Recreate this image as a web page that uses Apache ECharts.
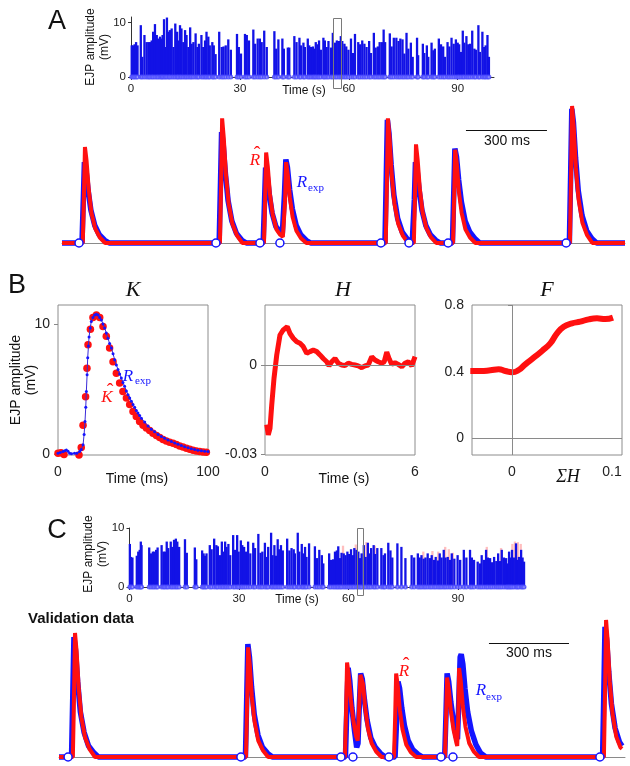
<html>
<head>
<meta charset="utf-8">
<script src="https://cdn.jsdelivr.net/npm/echarts@6.0.0/dist/echarts.min.js"></script>
</head>
<body style="margin:0">
<div id="container" style="width:630px;height:766px"></div>
<script>
// ---- panel A raster: [time (s), EJP amplitude (mV)]
var rasterA = [[0.2,5.8],[0.6,5.8],[1.0,6.0],[1.4,6.4],[1.8,5.8],[2.7,9.5],[3.1,3.7],[3.7,7.7],[4.3,6.4],[4.8,6.4],[5.2,6.4],[5.7,6.7],[6.1,8.3],[6.6,9.7],[7.1,7.7],[7.5,7.05],[8.0,7.4],[8.4,7.05],[8.7,7.7],[9.1,10.6],[9.5,5.5],[9.9,10.9],[10.4,8.3],[10.7,8.6],[11.2,8.9],[11.7,5.5],[12.2,9.8],[12.7,8.3],[13.0,6.7],[13.5,9.5],[13.9,8.9],[14.4,6.4],[14.9,8.6],[15.3,7.7],[15.8,5.5],[16.3,9.1],[16.7,6.1],[17.2,6.4],[17.8,8.0],[18.3,5.5],[18.7,6.1],[19.4,7.7],[19.9,5.5],[20.4,6.7],[20.8,8.3],[21.3,7.4],[21.7,5.8],[22.4,6.4],[22.8,5.8],[23.3,4.2],[24.3,8.3],[25.0,5.5],[25.5,5.6],[26.1,5.8],[26.8,6.9],[27.5,5.0],[29.2,7.9],[29.7,5.5],[30.3,4.3],[31.4,7.9],[31.9,7.7],[32.5,6.7],[33.7,8.7],[34.2,6.1],[34.9,7.05],[35.5,7.05],[36.0,6.4],[36.7,8.5],[37.4,5.5],[39.5,8.4],[40.0,5.2],[40.6,6.9],[41.7,7.05],[42.1,5.2],[43.2,5.4],[43.6,5.4],[45.0,7.5],[45.6,6.4],[46.4,7.2],[46.8,5.8],[47.5,6.3],[47.9,5.5],[48.7,7.05],[49.1,5.8],[49.6,5.5],[50.1,5.6],[50.5,5.2],[50.9,6.4],[51.4,6.0],[51.8,6.7],[52.3,5.0],[53.0,7.2],[53.4,6.7],[53.9,5.5],[54.4,6.6],[55.1,5.4],[55.6,8.1],[56.2,6.3],[56.7,6.7],[57.3,6.6],[57.8,7.5],[58.2,6.6],[58.8,6.1],[59.3,5.6],[59.9,5.0],[60.6,7.05],[61.2,4.4],[61.7,7.9],[62.6,6.4],[63.1,6.0],[63.7,6.7],[64.3,6.1],[64.9,5.5],[65.6,6.6],[66.1,4.4],[66.9,8.1],[67.4,5.4],[68.0,5.6],[68.5,6.4],[69.1,6.4],[69.6,8.7],[70.0,6.4],[71.3,8.0],[71.8,5.6],[72.4,7.2],[73.1,7.2],[73.7,6.6],[74.2,7.05],[74.8,6.9],[75.3,4.3],[75.9,8.1],[76.4,5.2],[77.1,6.3],[77.6,3.7],[78.8,7.2],[79.1,4.0],[80.4,6.1],[80.8,4.4],[81.5,5.8],[81.9,3.7],[82.8,6.3],[83.3,4.9],[83.7,5.2],[84.8,7.05],[85.4,6.0],[86.0,5.6],[86.5,3.7],[87.2,6.4],[87.7,5.6],[88.3,7.2],[88.9,6.1],[89.5,6.9],[90.0,6.3],[90.4,6.0],[90.9,4.6],[91.4,8.5],[91.8,6.3],[92.4,7.5],[92.9,6.0],[93.4,6.1],[94.0,8.5],[94.6,5.2],[95.0,5.0],[95.7,9.5],[96.1,4.6],[96.8,8.3],[97.3,5.5],[97.7,5.8],[98.2,7.7],[98.6,3.7]];

// ---- panel A traces: [time (ms), mV]
var traceABlue = [[0,0],[74,0],[79,3.2],[83,5.9],[89,5.3],[97,3.8],[107,2.4],[121,1.3],[138,0.6],[158,0.2],[175,0],
  [582,0],[587,4.4],[591,8.1],[597,7.2],[605,5.1],[615,3.1],[629,1.6],[646,0.7],[666,0.2],[683,0],
  [745,0],[750,3.0],[754,5.5],[760,4.9],[768,3.5],[778,2.2],[792,1.2],[808,0.8],[816,0.7],[824,3.6],[829,6.1],[835,5.5],[843,3.9],[853,2.5],[867,1.3],[884,0.6],[904,0.2],[921,0],
  [1196,0],[1201,4.9],[1205,9.0],[1211,8.0],[1219,5.7],[1229,3.5],[1243,1.8],[1260,0.8],[1280,0.25],[1297,0],
  [1300,0],[1305,3.2],[1309,5.9],[1315,5.3],[1323,3.8],[1333,2.4],[1347,1.3],[1364,0.6],[1384,0.2],[1401,0],
  [1446,0],[1451,3.8],[1455,6.9],[1461,6.3],[1469,4.6],[1479,3.0],[1493,1.6],[1510,0.8],[1530,0.3],[1547,0],
  [1879,0],[1884,5.3],[1888,9.8],[1894,8.8],[1902,6.2],[1912,3.8],[1926,2.0],[1943,0.9],[1963,0.3],[1980,0],[2085,0]];
var traceARed = [[0,0],[77,0],[81,3.2],[85,7.0],[91,6.0],[99,3.9],[109,2.2],[123,1.05],[140,0.4],[160,0],
  [585,0],[589,4.1],[593,9.1],[599,7.7],[607,5.0],[617,2.9],[631,1.4],[648,0.55],[668,0],
  [748,0],[752,3.0],[756,6.6],[762,5.6],[770,3.6],[780,2.1],[794,1.0],[808,0.6],[818,0.45],[826,3.0],[830,5.9],[836,5.0],[844,3.3],[854,1.9],[868,0.9],[885,0.35],[905,0],
  [1199,0],[1203,4.1],[1207,9.1],[1213,7.7],[1221,5.0],[1231,2.9],[1245,1.4],[1262,0.55],[1282,0],
  [1303,0],[1307,3.2],[1311,7.2],[1317,6.1],[1325,4.0],[1335,2.3],[1349,1.1],[1366,0.43],[1386,0],
  [1448,0],[1452,3.1],[1456,6.8],[1462,5.8],[1470,3.7],[1480,2.2],[1494,1.0],[1511,0.4],[1531,0],
  [1881,0],[1885,4.5],[1889,10.0],[1895,8.5],[1903,5.5],[1913,3.2],[1927,1.5],[1944,0.6],[1964,0],[2085,0]];
var spikesA = [63, 570, 733, 807, 1181, 1285, 1430, 1867];

// ---- panel B
var kHat = [[0,0.05],[2,0.1],[4,-0.05],[6,-0.12],[8,-0.12],[10,-0.12],[12,-0.12],[14,-0.08],[15.5,0.5],[16.7,2.2],[18.4,4.4],[19.3,6.6],[20,8.4],[21.6,9.6],[23.3,10.5],[25.6,10.7],[27.8,10.5],[30,9.8],[32.2,9.05],[34.4,8.15],[36.7,7.1],[38.9,6.2],[41.1,5.45],[43.3,4.8],[45.6,4.3],[47.8,3.8],[50,3.26],[52.2,2.88],[54.4,2.5],[56.7,2.2],[58.9,2.0],[61.1,1.8],[63.3,1.6],[65.6,1.42],[67.8,1.26],[70,1.12],[72.2,1.0],[74.4,0.9],[76.7,0.82],[78.9,0.72],[81.1,0.62],[83.3,0.53],[85.6,0.44],[87.8,0.36],[90,0.28],[92.2,0.22],[94.4,0.18],[96.7,0.15],[98.9,0.13]];
var kExp = [[0,0.05],[1.5,0.12],[3.3,0.18],[4.5,0.25],[5.6,0.3],[6.7,0.2],[7.8,0.05],[9,0.02],[11,0.05],[12.5,0.05],[14.4,0.18],[15.5,0.35],[16.7,0.7],[17.4,1.5],[18,2.5],[18.5,3.6],[18.9,4.8],[19.4,6.1],[19.8,7.4],[20.3,8.3],[20.7,9.0],[21.5,9.7],[22.2,10.2],[23.3,10.5],[24.4,10.7],[25.6,10.75],[26.7,10.7],[27.8,10.5],[28.9,10.3],[30,10.0],[31.1,9.7],[32.2,9.3],[33.3,8.9],[34.4,8.5],[35.6,8.15],[36.7,7.7],[37.8,7.25],[38.9,6.85],[40,6.5],[41.1,6.15],[42.2,5.85],[43.3,5.5],[44.4,5.2],[45.6,4.85],[46.7,4.55],[47.8,4.3],[48.9,4.05],[50,3.8],[51.1,3.6],[52.2,3.35],[53.3,3.15],[54.4,2.95],[55.6,2.75],[57.8,2.45],[60,2.15],[62.2,1.9],[64.4,1.7],[66.7,1.5],[68.9,1.35],[71.1,1.2],[73.3,1.08],[75.6,0.95],[77.8,0.85],[80,0.75],[82.2,0.65],[84.4,0.55],[86.7,0.48],[88.9,0.4],[91.1,0.34],[93.3,0.28],[95.6,0.24],[97.8,0.2],[100,0.18]];
var hCurve = [[0.07,-0.0201],[0.13,-0.0235],[0.2,-0.0213],[0.27,-0.0134],[0.36,-0.0045],[0.47,0.0034],[0.6,0.0101],[0.73,0.0118],[0.89,0.0129],[1.0,0.0106],[1.13,0.009],[1.27,0.0078],[1.4,0.0073],[1.53,0.0062],[1.67,0.0039],[1.8,0.0045],[1.93,0.005],[2.07,0.0045],[2.2,0.0034],[2.33,0.0022],[2.47,0.0011],[2.56,-0.0003],[2.67,0.0011],[2.8,0.0022],[2.93,0.0006],[3.07,0],[3.2,-0.0002],[3.33,0.0006],[3.47,0.0002],[3.6,0],[3.73,-0.0003],[3.87,-0.0009],[4.0,-0.0003],[4.13,0],[4.27,0.0028],[4.4,0.0017],[4.53,0.0011],[4.67,0.0006],[4.77,0.0011],[4.87,0.0043],[4.97,0.002],[5.07,0.0002],[5.2,0.0008],[5.33,0.0002],[5.47,-0.0006],[5.6,0.0006],[5.73,0.0011],[5.87,-0.0003],[6.0,0.0028]];
var fCurve = [[-0.0417,0.404],[-0.0317,0.404],[-0.0217,0.408],[-0.0133,0.414],[-0.0067,0.404],[0,0.396],[0.0067,0.41],[0.0133,0.444],[0.0217,0.484],[0.03,0.524],[0.0383,0.57],[0.045,0.63],[0.0517,0.67],[0.06,0.69],[0.0683,0.70],[0.0767,0.714],[0.085,0.72],[0.0933,0.716],[0.101,0.724]];

// ---- panel C raster
var rasterC = [[0.1,7.3],[0.4,5.1],[0.8,5.0],[2.0,5.3],[2.4,6.0],[2.8,6.3],[3.1,7.7],[3.3,7.1],[5.4,6.7],[5.9,5.7],[6.4,6.0],[6.8,6.0],[7.3,6.3],[7.7,6.7],[8.8,7.1],[9.3,6.0],[9.7,6.0],[10.2,7.7],[10.6,6.6],[11.3,7.7],[11.7,6.8],[12.2,8.0],[12.7,8.2],[13.1,7.7],[13.6,6.8],[15.2,8.1],[15.7,5.8],[17.9,6.7],[18.3,4.7],[19.9,6.2],[20.3,5.7],[20.7,5.3],[21.1,5.7],[22.0,7.1],[22.5,6.4],[23.2,8.2],[23.8,7.1],[24.2,6.9],[24.8,5.4],[25.3,7.7],[25.7,6.0],[26.2,7.7],[26.6,6.8],[27.1,7.3],[27.6,5.4],[28.4,8.8],[28.9,6.3],[29.5,8.8],[29.9,6.0],[30.5,7.9],[30.9,7.1],[31.4,6.8],[31.9,6.0],[32.5,7.7],[33.1,5.7],[33.9,7.5],[34.4,6.6],[35.3,9.0],[35.9,5.8],[36.4,6.0],[37.1,7.5],[37.6,5.1],[38.0,6.8],[38.8,9.2],[39.2,5.4],[39.7,7.1],[40.1,5.3],[40.6,8.1],[41.0,6.4],[41.5,7.1],[42.0,6.2],[43.2,8.2],[43.8,6.2],[44.4,6.6],[45.0,6.4],[45.3,5.7],[46.1,9.2],[46.5,6.0],[47.2,7.3],[47.6,5.7],[48.1,6.8],[48.5,5.1],[49.2,7.4],[50.8,6.9],[51.4,4.9],[52.0,6.3],[52.7,5.4],[53.1,4.0],[54.7,5.7],[55.2,4.6],[55.8,4.7],[56.3,6.0],[56.8,6.2],[57.2,6.9],[57.7,4.9],[58.1,5.8],[58.7,5.7],[59.2,5.4],[59.7,6.0],[60.2,5.6],[60.7,6.4],[61.2,5.4],[61.6,6.6],[62.2,6.3],[62.7,6.0],[63.2,4.9],[63.6,5.7],[64.2,7.1],[64.7,5.1],[65.3,7.5],[65.7,5.7],[66.2,6.6],[66.9,7.1],[67.3,5.6],[67.9,6.6],[69.0,6.6],[69.6,5.4],[70.0,5.7],[70.9,7.5],[71.5,6.2],[72.0,5.0],[73.4,7.4],[74.5,6.8],[75.6,4.9],[77.3,5.4],[78.0,5.0],[79.0,5.7],[79.5,5.0],[80.0,5.4],[80.6,4.8],[81.1,5.0],[81.7,5.7],[82.3,4.9],[82.8,5.4],[83.4,4.6],[83.9,5.1],[84.5,4.5],[85.0,5.7],[85.5,5.0],[86.1,6.3],[86.6,5.0],[87.2,5.1],[87.8,4.6],[88.3,5.7],[89.0,4.8],[89.9,5.4],[90.6,4.6],[91.6,6.3],[92.3,5.0],[93.3,6.3],[93.8,5.0],[94.4,4.6],[95.4,4.3],[96.0,4.0],[96.5,5.4],[97.1,4.6],[97.7,6.3],[98.2,5.0],[98.8,4.9],[99.3,4.2],[99.9,5.1],[100.5,4.4],[101.0,5.7],[101.5,4.4],[102.0,6.3],[102.6,5.0],[103.2,4.9],[103.6,4.0],[104.0,6.0],[104.4,5.0],[104.8,6.3],[105.3,5.0],[105.9,7.4],[106.3,4.6],[106.7,5.1],[107.3,6.3],[107.7,5.0],[108.1,4.3]];
var rasterCModel = [[58.5,7.0],[62.0,7.2],[64.9,7.6],[67.2,7.0],[80.5,6.0],[83.0,6.1],[84.6,6.0],[86.5,6.8],[87.5,6.4],[88.6,5.8],[97.9,6.8],[101.8,6.6],[104.9,7.3],[105.6,7.7],[106.4,7.6],[107.2,7.3]];

// ---- panel C traces
var traceCBlue = [[0,0],[47,0],[52,4.8],[56,8.76],[62,7.8],[70,5.5],[80,3.3],[94,1.8],[111,0.8],[131,0.3],[148,0],
  [699,0],[704,4.5],[708,8.25],[714,7.3],[722,5.1],[732,3.1],[746,1.6],[763,0.7],[783,0.25],[800,0],
  [1074,0],[1079,3.5],[1084,6.5],[1090,5.6],[1098,3.6],[1108,1.9],[1116,0.7],[1121,1.0],[1126,3.8],[1131,6.1],[1137,5.7],[1145,4.2],[1155,2.7],[1169,1.4],[1186,0.7],[1206,0.25],[1223,0],
  [1260,0],[1266,2.8],[1271,5.5],[1277,5.0],[1285,3.6],[1295,2.3],[1309,1.2],[1326,0.55],[1346,0.2],[1363,0],
  [1446,0],[1451,3.2],[1455,6.1],[1461,5.5],[1469,4.0],[1479,2.6],[1489,1.5],[1494,1.3],[1499,4.2],[1504,7.3],[1508,7.5],[1514,6.8],[1522,5.0],[1532,3.3],[1546,1.9],[1563,0.9],[1580,0.3],[1600,0],
  [2038,0],[2043,5.1],[2047,9.5],[2053,8.6],[2061,6.2],[2071,3.9],[2085,2.1],[2101,1.1],[2111,0.8]];
var traceCRed = [[0,0],[52,0],[56,4.1],[60,9.05],[66,7.7],[74,5.0],[84,2.9],[98,1.4],[115,0.55],[135,0],
  [701,0],[705,3.6],[709,8.0],[715,6.8],[723,4.4],[733,2.6],[747,1.2],[764,0.5],[784,0],
  [1072,0],[1076,3.1],[1080,6.9],[1086,6.0],[1094,4.2],[1104,2.6],[1114,1.5],[1120,1.2],[1125,3.5],[1130,6.0],[1134,6.1],[1140,5.3],[1148,3.6],[1158,2.1],[1172,1.0],[1189,0.4],[1209,0],
  [1256,0],[1260,2.7],[1264,6.1],[1270,5.2],[1278,3.4],[1288,2.0],[1302,0.9],[1319,0.35],[1339,0],
  [1447,0],[1451,2.6],[1455,5.8],[1461,5.0],[1469,3.4],[1479,2.0],[1489,1.1],[1493,0.8],[1497,3.0],[1500,6.5],[1506,5.6],[1514,3.7],[1524,2.2],[1538,1.0],[1555,0.4],[1575,0],
  [2043,0],[2047,4.5],[2051,10.0],[2057,8.5],[2065,5.5],[2075,3.2],[2089,1.5],[2105,0.7],[2111,0.6]];
var spikesC = [34, 682, 1057, 1102, 1237, 1432, 1477, 2028];

// scale bars (ms, mV) and zoom boxes (s, mV): [t0, t1, v0, v1]
var scaleA = [1496, 1796, 8.2];
var scaleC = [1612, 1912, 8.3];
var boxA = [55.6, 57.9, -1.9, 10.9];
var boxC = [62.3, 63.9, -1.4, 10];

var BLUE = '#1414ff', RED = '#ff1010', BAR = '#1212e6';
var SANS = "'Liberation Sans', Arial, sans-serif";
var SERIF = "'Liberation Serif', 'Times New Roman', serif";

var dom = document.getElementById('container');
var myChart = echarts.init(dom);

function rasterX(grid, max) {
    return {
        gridIndex: grid, type: 'value', min: 0, max: max,
        axisLine: { lineStyle: { color: '#333' } },
        axisTick: { length: 3, customValues: [0, 30, 60, 90], lineStyle: { color: '#333' } },
        axisLabel: { customValues: [0, 30, 60, 90], fontSize: 11.5, color: '#222', margin: 6, fontFamily: SANS },
        splitLine: { show: false }
    };
}
function rasterY(grid, max) {
    return {
        gridIndex: grid, type: 'value', min: 0, max: max,
        axisLine: { show: true, lineStyle: { color: '#333' } },
        axisTick: { show: true, length: 3, customValues: [0, 10], lineStyle: { color: '#333' } },
        axisLabel: { customValues: [0, 10], fontSize: 11.5, color: '#222', margin: 5, fontFamily: SANS },
        splitLine: { show: false }
    };
}
function traceX(grid, max) {
    return {
        gridIndex: grid, type: 'value', min: 0, max: max,
        axisLine: { lineStyle: { color: '#8a8a8a' } },
        axisTick: { show: false }, axisLabel: { show: false }, splitLine: { show: false }
    };
}
function traceY(grid) {
    return { gridIndex: grid, type: 'value', min: 0, max: 10, show: false, splitLine: { show: false } };
}
function boxAxis(grid, min, max, vals, isY) {
    return {
        gridIndex: grid, type: 'value', min: min, max: max,
        axisLine: { show: false },
        axisTick: { show: isY, length: 4, customValues: vals, lineStyle: { color: '#888' } },
        axisLabel: { customValues: vals, fontSize: 14, color: '#222', margin: isY ? 8 : 10, fontFamily: SANS },
        splitLine: { show: false }
    };
}
function txt(x, y, s, o) {
    o = o || {};
    return {
        type: 'text', x: x, y: y, rotation: o.rot || 0, z: 100,
        style: {
            text: s, fill: o.color || '#111',
            fontSize: o.size || 12, fontFamily: o.family || SANS,
            fontStyle: o.italic ? 'italic' : 'normal', fontWeight: o.bold ? 'bold' : 'normal',
            align: o.align || 'center', verticalAlign: 'middle'
        }
    };
}
function greyLines(list) {
    return {
        silent: true, symbol: ['none', 'none'], label: { show: false },
        lineStyle: { color: '#8a8a8a', width: 1, type: 'solid' }, data: list
    };
}
function scaleBar(s) {
    return {
        silent: true, symbol: ['none', 'none'], label: { show: false },
        lineStyle: { color: '#111', width: 1, type: 'solid' },
        data: [[{ coord: [s[0], s[2]] }, { coord: [s[1], s[2]] }]]
    };
}
function circles(times, xi) {
    return {
        type: 'scatter', xAxisIndex: xi, yAxisIndex: xi, z: 6, clip: false, silent: true,
        symbol: 'circle', symbolSize: 8,
        itemStyle: { color: '#fff', borderColor: BLUE, borderWidth: 1.5, opacity: 1 },
        data: times.map(function (t) { return [t, 0]; })
    };
}
function baseDots(raster, xi) {
    return {
        type: 'scatter', xAxisIndex: xi, yAxisIndex: xi, z: 8, clip: false, silent: true,
        symbol: 'emptyCircle', symbolSize: 3,
        itemStyle: { color: '#4a4aff', borderWidth: 0.7 },
        data: raster.map(function (d) { return [d[0], 0]; })
    };
}
function rasterBars(data, xi, color) {
    return {
        type: 'bar', xAxisIndex: xi, yAxisIndex: xi, barWidth: 2.3, barGap: '-100%', clip: false, silent: true,
        itemStyle: { color: color }, data: data
    };
}

var labels = [
    txt(57, 22, 'A', { size: 27 }),
    txt(17, 286, 'B', { size: 27 }),
    txt(57, 531, 'C', { size: 27 }),
    // A raster labels
    txt(91, 47, 'EJP amplitude', { size: 12, rot: Math.PI / 2 }),
    txt(105, 47, '(mV)', { size: 12, rot: Math.PI / 2 }),
    txt(304, 91, 'Time (s)', { size: 12 }),
    // A trace labels
    txt(507, 141, '300 ms', { size: 14 }),
    txt(255, 161, 'R', { size: 17, family: SERIF, italic: true, color: RED }),
    txt(257, 156, 'ˆ', { size: 20, family: SERIF, color: RED }),
    txt(302, 183, 'R', { size: 17, family: SERIF, italic: true, color: BLUE }),
    txt(316, 188, 'exp', { size: 11, family: SERIF, color: BLUE }),
    // B titles and labels
    txt(133, 290, 'K', { size: 22, family: SERIF, italic: true }),
    txt(343, 290, 'H', { size: 22, family: SERIF, italic: true }),
    txt(547, 290, 'F', { size: 22, family: SERIF, italic: true }),
    txt(16, 380, 'EJP amplitude', { size: 14, rot: Math.PI / 2 }),
    txt(31, 380, '(mV)', { size: 14, rot: Math.PI / 2 }),
    txt(137, 479, 'Time (ms)', { size: 14 }),
    txt(344, 479, 'Time (s)', { size: 14 }),
    txt(568, 477, 'ΣH', { size: 18, family: SERIF, italic: true }),
    txt(128, 377, 'R', { size: 17, family: SERIF, italic: true, color: BLUE }),
    txt(143, 381, 'exp', { size: 11, family: SERIF, color: BLUE }),
    txt(107, 398, 'K', { size: 17, family: SERIF, italic: true, color: RED }),
    txt(110, 393, 'ˆ', { size: 20, family: SERIF, color: RED }),
    // C raster labels
    txt(89, 554, 'EJP amplitude', { size: 12, rot: Math.PI / 2 }),
    txt(103, 554, '(mV)', { size: 12, rot: Math.PI / 2 }),
    txt(297, 600, 'Time (s)', { size: 12 }),
    // C trace labels
    txt(28, 619, 'Validation data', { size: 15, bold: true, align: 'left' }),
    txt(529, 653, '300 ms', { size: 14 }),
    txt(404, 672, 'R', { size: 17, family: SERIF, italic: true, color: RED }),
    txt(406, 667, 'ˆ', { size: 20, family: SERIF, color: RED }),
    txt(481, 691, 'R', { size: 17, family: SERIF, italic: true, color: BLUE }),
    txt(494, 697, 'exp', { size: 11, family: SERIF, color: BLUE })
];

var option = {
    animation: false,
    backgroundColor: '#fff',
    grid: [
        { left: 131, top: 17, width: 363, height: 60 },
        { left: 62, top: 106, width: 563, height: 137 },
        { left: 58, top: 305, width: 150, height: 150, show: true, borderColor: '#8c8c8c', borderWidth: 1, backgroundColor: 'transparent' },
        { left: 265, top: 305, width: 150, height: 150, show: true, borderColor: '#8c8c8c', borderWidth: 1, backgroundColor: 'transparent' },
        { left: 472, top: 305, width: 150, height: 150, show: true, borderColor: '#8c8c8c', borderWidth: 1, backgroundColor: 'transparent' },
        { left: 129.5, top: 528, width: 396, height: 59 },
        { left: 59, top: 620, width: 566, height: 137 }
    ],
    xAxis: [
        rasterX(0, 100),
        traceX(1, 2085),
        boxAxis(2, 0, 100, [0, 100], false),
        boxAxis(3, 0, 6, [0, 6], false),
        boxAxis(4, -0.04, 0.11, [0, 0.1], false),
        rasterX(5, 108.5),
        traceX(6, 2122)
    ],
    yAxis: [
        rasterY(0, 11),
        traceY(1),
        boxAxis(2, -0.08, 11.46, [0, 10], true),
        boxAxis(3, -0.0303, 0.0202, [-0.03, 0], true),
        boxAxis(4, -0.1, 0.8, [0, 0.4, 0.8], true),
        rasterY(5, 10),
        traceY(6)
    ],
    series: [
        // A raster
        rasterBars(rasterA, 0, BAR),
        baseDots(rasterA, 0),
        // A traces
        { type: 'line', xAxisIndex: 1, yAxisIndex: 1, showSymbol: false, clip: false, silent: true,
          lineStyle: { color: BLUE, width: 5.5 }, data: traceABlue, markLine: scaleBar(scaleA) },
        { type: 'line', xAxisIndex: 1, yAxisIndex: 1, showSymbol: false, clip: false, silent: true,
          lineStyle: { color: RED, width: 4 }, data: traceARed },
        circles(spikesA, 1),
        // B: K
        { type: 'scatter', xAxisIndex: 2, yAxisIndex: 2, symbolSize: 7.5, silent: true,
          itemStyle: { color: RED, opacity: 1 }, data: kHat },
        { type: 'line', xAxisIndex: 2, yAxisIndex: 2, symbol: 'circle', symbolSize: 3, showSymbol: true, silent: true,
          lineStyle: { color: '#3a2ad8', width: 1 }, itemStyle: { color: BLUE }, data: kExp, z: 3 },
        // B: H
        { type: 'line', xAxisIndex: 3, yAxisIndex: 3, showSymbol: false, silent: true,
          lineStyle: { color: RED, width: 5 }, data: hCurve, markLine: greyLines([{ yAxis: 0 }]) },
        // B: F
        { type: 'line', xAxisIndex: 4, yAxisIndex: 4, showSymbol: false, smooth: true, silent: true,
          lineStyle: { color: RED, width: 6 }, data: fCurve, markLine: greyLines([{ yAxis: 0 }, { xAxis: 0 }]) },
        // C raster (faint model bars behind the data bars)
        rasterBars(rasterCModel, 5, 'rgba(255,110,110,0.45)'),
        rasterBars(rasterC, 5, BAR),
        baseDots(rasterC, 5),
        // C traces
        { type: 'line', xAxisIndex: 6, yAxisIndex: 6, showSymbol: false, clip: false, silent: true,
          lineStyle: { color: BLUE, width: 5.5 }, data: traceCBlue, markLine: scaleBar(scaleC) },
        { type: 'line', xAxisIndex: 6, yAxisIndex: 6, showSymbol: false, clip: false, silent: true,
          lineStyle: { color: RED, width: 4 }, data: traceCRed },
        circles(spikesC, 6)
    ],
    graphic: labels
};

myChart.setOption(option);

// zoom boxes drawn on top of the rasters, placed through the axes
function boxRect(grid, b) {
    var p1 = myChart.convertToPixel({ gridIndex: grid }, [b[0], b[3]]);
    var p2 = myChart.convertToPixel({ gridIndex: grid }, [b[1], b[2]]);
    return {
        type: 'rect', z: 90, silent: true,
        shape: { x: Math.round(p1[0]) + 0.5, y: Math.round(p1[1]) + 0.5,
                 width: Math.round(p2[0] - p1[0]), height: Math.round(p2[1] - p1[1]) },
        style: { fill: 'none', stroke: '#7a7a7a', lineWidth: 1 }
    };
}
myChart.setOption({ graphic: labels.concat([boxRect(0, boxA), boxRect(5, boxC)]) });
</script>
</body>
</html>
